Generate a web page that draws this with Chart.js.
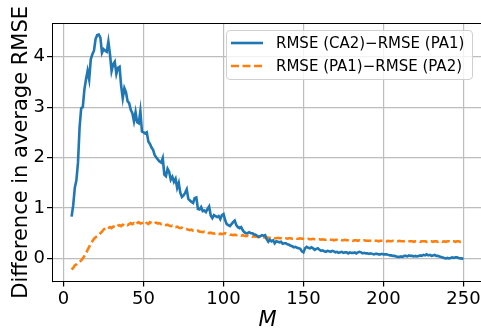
<!DOCTYPE html>
<html>
<head>
<meta charset="utf-8">
<script src="https://cdn.jsdelivr.net/npm/chart.js@4.4.0/dist/chart.umd.min.js"></script>
<style>
  body { margin: 0; overflow: hidden; background: #fff; }
  #wrap { position: relative; width: 486px; height: 333px; }
  #legend {
    position: absolute; left: 226px; top: 30px; width: 247px; height: 50px;
    border: 1px solid #d0d0d0; border-radius: 4px; background: rgba(255,255,255,0.8);
    font-family: 'DejaVu Sans', sans-serif; font-size: 15px; color: #000;
    box-sizing: border-box;
  }
  .row { position: absolute; left: 0; height: 20px; }
  .row svg { position: absolute; left: 4px; top: 0; }
  .row span { position: absolute; left: 49px; top: 1px; white-space: nowrap; line-height: 18px; }
</style>
</head>
<body>
<div id="wrap">
  <canvas id="myChart" width="486" height="333"></canvas>
  <div id="legend">
    <div class="row" style="top:2px">
      <svg width="34" height="20"><line x1="0" y1="10" x2="32" y2="10" stroke="#1f77b4" stroke-width="2.6"/></svg>
      <span>RMSE (CA2)−RMSE (PA1)</span>
    </div>
    <div class="row" style="top:25px">
      <svg width="34" height="20"><line x1="0" y1="10" x2="32" y2="10" stroke="#ff7f0e" stroke-width="2.6" stroke-dasharray="8 3.5"/></svg>
      <span>RMSE (PA1)−RMSE (PA2)</span>
    </div>
  </div>
</div>
<script>
'use strict';

// M runs from 5 to 250
let mValues = [];
for (let m = 5; m <= 250; m++){
  mValues.push(m);
}

let seriesNames = ['RMSE (CA2)−RMSE (PA1)', 'RMSE (PA1)−RMSE (PA2)'];

let caMinusPa1 = [
  0.83, 1.05, 1.4, 1.55, 1.9, 2.6, 2.98, 3.0, 3.35, 3.55,
  3.72, 3.55, 3.95, 4.05, 4.12, 4.35, 4.43, 4.44, 4.38, 4.08,
  4.15, 4.12, 4.1, 4.3, 4.05, 3.72, 3.85, 3.9, 3.66, 3.78,
  3.8, 3.42, 3.18, 3.38, 3.3, 3.12, 3.08, 2.95, 2.88, 2.72,
  2.9, 2.7, 2.68, 2.92, 2.52, 2.5, 2.48, 2.5, 2.32, 2.27,
  2.2, 2.15, 2.05, 2.0, 1.96, 1.92, 1.9, 1.99, 1.66, 1.63,
  1.78, 1.72, 1.56, 1.62, 1.52, 1.58, 1.4, 1.5, 1.3, 1.22,
  1.25, 1.3, 1.37, 1.18, 1.15, 1.12, 1.1, 1.2, 1.21, 0.98,
  0.97, 1.02, 0.94, 0.95, 0.92, 0.98, 1.03, 0.85, 0.8, 0.86,
  0.84, 0.82, 0.84, 0.78, 0.86, 0.88, 0.76, 0.68, 0.66, 0.64,
  0.68, 0.72, 0.75, 0.66, 0.62, 0.6, 0.62, 0.56, 0.52, 0.5,
  0.5, 0.52, 0.5, 0.5, 0.48, 0.47, 0.45, 0.43, 0.44, 0.46,
  0.45, 0.46, 0.38, 0.33, 0.37, 0.34, 0.36, 0.3, 0.34, 0.33,
  0.32, 0.33, 0.29, 0.3, 0.3, 0.28, 0.27, 0.25, 0.24, 0.22,
  0.23, 0.21, 0.2, 0.19, 0.14, 0.12, 0.2, 0.23, 0.21, 0.2,
  0.22, 0.2, 0.17, 0.19, 0.2, 0.17, 0.15, 0.16, 0.14, 0.13,
  0.15, 0.14, 0.13, 0.15, 0.14, 0.12, 0.13, 0.11, 0.12, 0.13,
  0.11, 0.12, 0.12, 0.1, 0.12, 0.11, 0.11, 0.12, 0.1, 0.12,
  0.13, 0.12, 0.1, 0.11, 0.1, 0.1, 0.09, 0.1, 0.09, 0.08,
  0.09, 0.09, 0.08, 0.08, 0.09, 0.08, 0.08, 0.08, 0.07, 0.06,
  0.06, 0.05, 0.05, 0.04, 0.03, 0.03, 0.04, 0.03, 0.05, 0.05,
  0.04, 0.06, 0.05, 0.05, 0.04, 0.05, 0.04, 0.05, 0.06, 0.05,
  0.07, 0.06, 0.08, 0.06, 0.07, 0.05, 0.06, 0.07, 0.05, 0.05,
  0.04, 0.03, 0.02, 0.01, 0.0, 0.01, 0.0, 0.01, 0.02, 0.01,
  0.02, 0.02, 0.01, 0.0, 0.0, -0.01
];

let pa1MinusPa2 = [
  -0.22, -0.19, -0.14, -0.12, -0.09, -0.07, -0.04, 0.0, 0.05, 0.1,
  0.17, 0.23, 0.29, 0.34, 0.39, 0.42, 0.44, 0.47, 0.5, 0.53,
  0.57, 0.6, 0.58, 0.6, 0.62, 0.6, 0.63, 0.64, 0.62, 0.65,
  0.66, 0.64, 0.67, 0.66, 0.68, 0.66, 0.68, 0.7, 0.68, 0.7,
  0.67, 0.7, 0.72, 0.69, 0.7, 0.71, 0.74, 0.7, 0.68, 0.72,
  0.7, 0.68, 0.7, 0.71, 0.69, 0.7, 0.68, 0.69, 0.67, 0.66,
  0.67, 0.65, 0.64, 0.65, 0.63, 0.62, 0.63, 0.61, 0.6, 0.61,
  0.59, 0.58, 0.58, 0.57, 0.56, 0.57, 0.55, 0.55, 0.54, 0.55,
  0.53, 0.53, 0.52, 0.53, 0.51, 0.51, 0.5, 0.51, 0.5, 0.49,
  0.5, 0.49, 0.48, 0.49, 0.48, 0.49, 0.5, 0.49, 0.48, 0.47,
  0.47, 0.46, 0.47, 0.46, 0.46, 0.46, 0.45, 0.46, 0.45, 0.44,
  0.45, 0.44, 0.44, 0.43, 0.44, 0.43, 0.43, 0.42, 0.43, 0.42,
  0.42, 0.41, 0.42, 0.41, 0.41, 0.4, 0.41, 0.4, 0.4, 0.41,
  0.4, 0.4, 0.39, 0.4, 0.4, 0.39, 0.4, 0.4, 0.39, 0.39,
  0.4, 0.39, 0.39, 0.4, 0.39, 0.39, 0.39, 0.38, 0.39, 0.38,
  0.38, 0.39, 0.38, 0.38, 0.38, 0.38, 0.37, 0.38, 0.37, 0.37,
  0.38, 0.37, 0.37, 0.37, 0.36, 0.37, 0.37, 0.36, 0.37, 0.36,
  0.36, 0.37, 0.36, 0.36, 0.36, 0.36, 0.35, 0.36, 0.36, 0.35,
  0.36, 0.35, 0.35, 0.36, 0.35, 0.35, 0.35, 0.35, 0.34, 0.35,
  0.35, 0.35, 0.34, 0.35, 0.35, 0.35, 0.35, 0.34, 0.35, 0.34,
  0.34, 0.35, 0.34, 0.34, 0.34, 0.35, 0.34, 0.34, 0.34, 0.35,
  0.34, 0.34, 0.34, 0.34, 0.33, 0.34, 0.34, 0.34, 0.33, 0.34,
  0.34, 0.34, 0.33, 0.34, 0.34, 0.34, 0.33, 0.34, 0.34, 0.33,
  0.34, 0.34, 0.33, 0.34, 0.33, 0.34, 0.34, 0.33, 0.34, 0.34,
  0.33, 0.34, 0.34, 0.33, 0.34, 0.34
];

let xTicks = [0, 50, 100, 150, 200, 250];
let yTicks = [0, 1, 2, 3, 4];

function toPoints(values){
  let pts = [];
  for (let i=0; i<mValues.length; i++){
    pts.push({x: mValues[i], y: values[i]});
  }
  return pts;
}

// top and right spines (matplotlib style box)
let boxPlugin = {
  id: 'boxPlugin',
  afterDraw(chart){
    let a = chart.chartArea;
    let ctx = chart.ctx;
    ctx.save();
    ctx.strokeStyle = '#000';
    ctx.lineWidth = 1;
    ctx.beginPath();
    ctx.moveTo(a.left, a.top + 0.5);
    ctx.lineTo(a.right, a.top + 0.5);
    ctx.lineTo(a.right, a.bottom);
    ctx.stroke();
    ctx.restore();
  }
};

let font = 'DejaVu Sans';

let ctx = document.getElementById('myChart').getContext('2d');
new Chart(ctx, {
  type: 'line',
  data: {
    datasets: [{
      label: seriesNames[0],
      data: toPoints(caMinusPa1),
      borderColor: '#1f77b4',
      borderWidth: 2.6,
      pointRadius: 0,
      tension: 0,
      fill: false
    },{
      label: seriesNames[1],
      data: toPoints(pa1MinusPa2),
      borderColor: '#ff7f0e',
      borderWidth: 2.6,
      borderDash: [8, 3.5],
      pointRadius: 0,
      tension: 0,
      fill: false
    }]
  },
  options: {
    responsive: false,
    animation: false,
    devicePixelRatio: 1,
    layout: { padding: { top: 23, right: 3, left: 0, bottom: 0 } },
    plugins: {
      legend: { display: false },
      tooltip: { enabled: false }
    },
    scales: {
      x: {
        type: 'linear',
        min: -7.25,
        max: 262.25,
        afterFit(scale){ scale.height = 51.4; },
        afterBuildTicks(scale){ scale.ticks = xTicks.map(v => ({value: v})); },
        ticks: {
          font: { family: font, size: 18 },
          color: '#000',
          padding: 2,
          maxRotation: 0
        },
        grid: { color: '#bdbdbd', lineWidth: 1.2, tickColor: '#000', tickLength: 5 },
        border: { color: '#000', width: 1 },
        title: {
          display: true,
          text: 'M',
          font: { family: font, size: 21, style: 'italic' },
          color: '#000',
          padding: { top: 0, bottom: 0 }
        }
      },
      y: {
        min: -0.46,
        max: 4.67,
        afterFit(scale){ scale.width = 52; },
        afterBuildTicks(scale){ scale.ticks = yTicks.map(v => ({value: v})); },
        ticks: {
          font: { family: font, size: 18 },
          color: '#000',
          padding: 2
        },
        grid: { color: '#bdbdbd', lineWidth: 1.2, tickColor: '#000', tickLength: 5 },
        border: { color: '#000', width: 1 },
        title: {
          display: true,
          text: 'Difference in average RMSE',
          font: { family: font, size: 21 },
          color: '#000',
          padding: { top: 9, bottom: 0 }
        }
      }
    }
  },
  plugins: [boxPlugin]
});
</script>
</body>
</html>
